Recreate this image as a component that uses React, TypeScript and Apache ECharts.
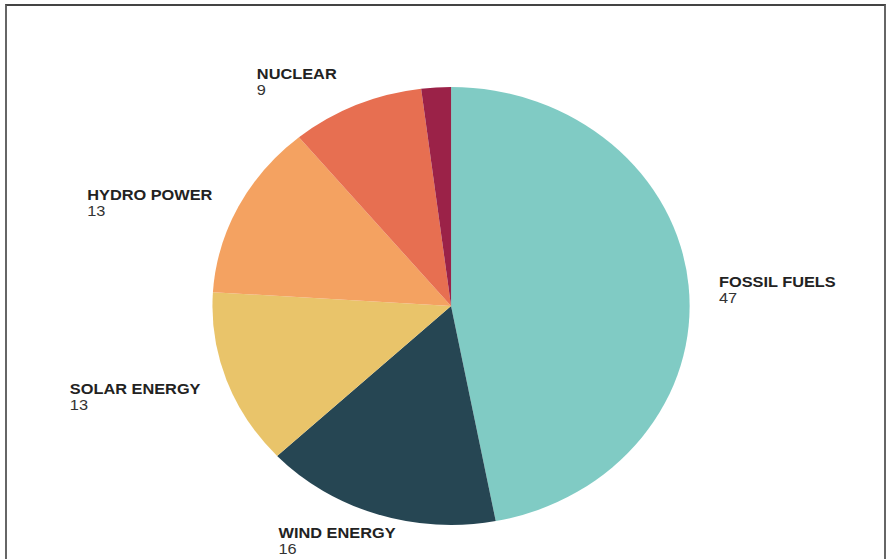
import React, { useEffect, useRef } from "react";
import * as echarts from "echarts";

const categories = ["FOSSIL FUELS", "WIND ENERGY", "SOLAR ENERGY", "HYDRO POWER", "NUCLEAR", "OTHER"];
const values = [47, 16, 13, 13, 9, 2];
const colors = ["#80cbc4", "#264653", "#e9c46a", "#f4a261", "#e76f51", "#9b2248"];
const showLabel = [true, true, true, true, true, false];

// label nudges (layout only)
const LABEL_NUDGE: [number, number][] = [[-2, 6], [33, 7], [5, 10], [4, 5], [0, -5], [0, 0]];

const STRETCH = 889 / 816;

export default function App() {
  const ref = useRef<HTMLDivElement>(null);
  useEffect(() => {
    if (!ref.current) return;
    const chart = echarts.init(ref.current, undefined, { renderer: "svg" });
    chart.setOption({
      animation: false,
      backgroundColor: "transparent",
      series: [
        {
          type: "pie",
          center: [414, 306],
          radius: [0, 219],
          startAngle: 90,
          clockwise: true,
          avoidLabelOverlap: false,
          itemStyle: { borderWidth: 0 },
          label: {
            show: true,
            position: "outside",
            formatter: "{n|{b}}\n{v|{c}}",
            rich: {
              n: { fontFamily: "Liberation Sans, Arial, sans-serif", fontWeight: "bold", fontSize: 15, color: "#222", lineHeight: 16, align: "left" },
              v: { fontFamily: "Liberation Sans, Arial, sans-serif", fontSize: 15, color: "#333", lineHeight: 16, align: "left" },
            },
          },
          labelLine: { show: false, length: 20, length2: 5 },
          labelLayout: (p: any) => {
            const n = LABEL_NUDGE[p.dataIndex] || [0, 0];
            return { dx: n[0], dy: n[1] };
          },
          data: categories.map((name, i) => ({
            name,
            value: values[i],
            itemStyle: { color: colors[i] },
            label: { show: showLabel[i] },
          })),
        },
      ],
    });
    return () => chart.dispose();
  }, []);
  return (
    <div style={{ position: "fixed", left: 0, top: 0, width: 889, height: 559, overflow: "hidden", background: "#fff" }}>
      <div
        ref={ref}
        style={{ position: "absolute", left: 0, top: 0, width: 816, height: 559, transform: `scaleX(${STRETCH})`, transformOrigin: "0 0" }}
      />
      <div
        style={{ position: "absolute", left: 5, top: 4, width: 877, height: 600, borderTop: "2px solid #444", borderLeft: "2px solid #666", borderRight: "2px solid #666", pointerEvents: "none" }}
      />
    </div>
  );
}
